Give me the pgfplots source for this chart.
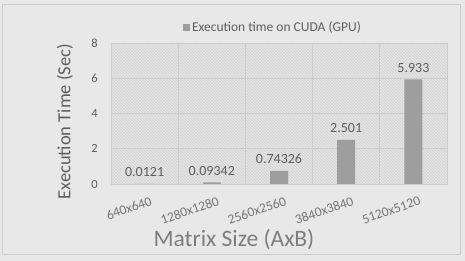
\documentclass[border=0pt]{standalone}
\usepackage{pgfplots}
\pgfplotsset{compat=1.18}
\usetikzlibrary{patterns}
\usepackage{fontspec}
\setmainfont{Carlito}
\definecolor{bgc}{HTML}{E8E8E8}
\definecolor{plotbg}{HTML}{E4E4E4}
\definecolor{hatch}{HTML}{D0D0D0}
\definecolor{barc}{HTML}{9E9E9E}
\definecolor{txt}{HTML}{5E5E5E}
\definecolor{gridc}{HTML}{CDCDCD}
\begin{document}
\begin{tikzpicture}[x=1pt,y=1pt]
\path[use as bounding box, fill=bgc] (-111,-77) rectangle (354,184);
\draw[gridc, line width=1pt] (-108,-71) rectangle (349,179);
\begin{axis}[at={(0,0)}, anchor=south west, scale only axis,
  width=336pt, height=141pt,
  xmin=-0.5, xmax=4.5, ymin=0, ymax=8,
  ytick={0,2,4,6,8},
  xtick={0,1,2,3,4},
  xticklabels={640x640,1280x1280,2560x2560,3840x3840,5120x5120},
  minor xtick={0.5,1.5,2.5,3.5},
  xminorgrids=true, ymajorgrids=true,
  grid style={gridc, line width=0.8pt},
  minor grid style={gridc, line width=0.8pt},
  major tick length=0pt, minor tick length=0pt,
  axis line style={gridc, line width=0.8pt},
  axis background/.style={fill=plotbg, postaction={pattern=north west lines, pattern color=hatch}},
  /pgf/number format/assume math mode=true,
  yticklabel style={font=\fontsize{12.5}{14}\selectfont, text=txt, anchor=east, inner sep=0pt, xshift=-13pt},
  xticklabel style={font=\fontsize{13.5}{15}\selectfont, text=txt!85!white, rotate=19, anchor=north east, inner sep=0pt, yshift=-13pt, xshift=1pt},
  ylabel={Execution Time (Sec)},
  ylabel style={at={(axis description cs:0,0.442)}, anchor=center, yshift=46pt, font=\fontsize{18.5}{20}\selectfont, text=txt},
  xlabel={Matrix Size (AxB)},
  xlabel style={at={(axis description cs:0.366,0)}, anchor=center, yshift=-56pt, font=\fontsize{23.5}{26}\selectfont, text=txt!80!white},
  ybar, bar width=18pt,
  nodes near coords, point meta=explicit symbolic,
  every node near coord/.append style={font=\fontsize{14}{16}\selectfont, text=txt, anchor=south, inner sep=0pt, yshift=7pt},
  legend style={draw=none, fill=none, at={(0.482,1.113)}, anchor=center, font=\fontsize{13.5}{15}\selectfont, text=txt},
  legend image code/.code={\fill[barc] (0pt,-3.5pt) rectangle (7pt,3.5pt);},
]
\addplot[fill=barc, draw=none] coordinates {
  (0,0.0121) [0.0121]
  (1,0.09342) [0.09342]
  (2,0.74326) [0.74326]
  (3,2.501) [2.501]
  (4,5.933) [5.933]
};
\addlegendentry{Execution time on CUDA (GPU)}
\end{axis}
\end{tikzpicture}
\end{document}
